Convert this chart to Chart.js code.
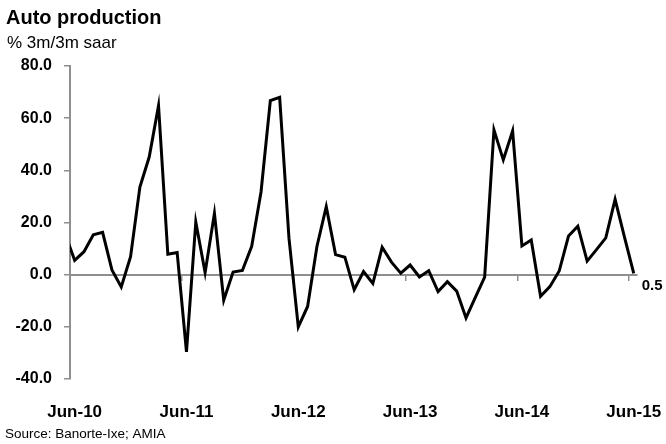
<!DOCTYPE html>
<html>
<head>
<meta charset="utf-8">
<title>Auto production</title>
<script src="https://cdn.jsdelivr.net/npm/chart.js@4.4.1/dist/chart.umd.min.js"></script>
<style>
    html, body { margin:0; padding:0; background:#ffffff; }
    #divGraph { position:relative; width:666px; height:444px; }
</style>
</head>
<body>
<div id="divGraph"><canvas id="canvasGraph"></canvas></div>
<script>
// Mois de la serie (mai-10 a juin-15)
var mois = [
    "May-10","Jun-10","Jul-10","Aug-10","Sep-10","Oct-10","Nov-10","Dec-10",
    "Jan-11","Feb-11","Mar-11","Apr-11","May-11","Jun-11","Jul-11","Aug-11","Sep-11","Oct-11","Nov-11","Dec-11",
    "Jan-12","Feb-12","Mar-12","Apr-12","May-12","Jun-12","Jul-12","Aug-12","Sep-12","Oct-12","Nov-12","Dec-12",
    "Jan-13","Feb-13","Mar-13","Apr-13","May-13","Jun-13","Jul-13","Aug-13","Sep-13","Oct-13","Nov-13","Dec-13",
    "Jan-14","Feb-14","Mar-14","Apr-14","May-14","Jun-14","Jul-14","Aug-14","Sep-14","Oct-14","Nov-14","Dec-14",
    "Jan-15","Feb-15","Mar-15","Apr-15","May-15","Jun-15"
];

// Production automobile, % 3m/3m saar
var valeurs = [
    15.4, 5.5, 8.8, 15.3, 16.2, 1.8, -4.7, 6.9, 33.6, 45.1, 64.8, 7.8,
    8.5, -29.6, 20.2, 0.8, 23.5, -9.8, 1.0, 1.6, 10.9, 31.7, 66.7, 68.0,
    14.0, -20.0, -12.2, 10.8, 26.1, 7.7, 6.7, -5.8, 1.2, -3.4, 10.5, 4.8,
    0.6, 3.7, -0.9, 1.5, -6.5, -2.7, -6.3, -16.6, -8.7, -0.9, 55.5, 44.0,
    55.1, 11.0, 13.3, -8.3, -4.6, 1.4, 14.8, 18.6, 5.2, 9.6, 14.1, 28.9,
    14.5, 0.5
];

// Etiquettes de l'axe X
var positionsEtiquettes = [1, 13, 25, 37, 49, 61];
var etiquettesX = ["Jun-10", "Jun-11", "Jun-12", "Jun-13", "Jun-14", "Jun-15"];
var graduationsZero = [0.5, 12.5, 24.5, 36.5, 48.5, 60.5];

// Graduations de l'axe Y
var graduationsY = [-40, -20, 0, 20, 40, 60, 80];

var police = "'Liberation Sans', Arial, sans-serif";
var gris = "#8f8f8f";

var points = [];
for (var i = 0; i < valeurs.length; i++)
{
    points.push({ x: i, y: valeurs[i] });
}

// Titres, source et etiquette de la derniere valeur
var pluginTextes = {
    id: "textes",
    afterDraw: function(chart)
    {
        var ctx = chart.ctx;
        ctx.save();
        ctx.fillStyle = "#000000";
        ctx.textAlign = "left";
        ctx.textBaseline = "alphabetic";

        ctx.font = "bold 20px " + police;
        ctx.fillText("Auto production", 6, 24);

        ctx.font = "17px " + police;
        ctx.fillText("% 3m/3m saar", 7, 48);

        ctx.font = "13.5px " + police;
        ctx.fillText("Source: Banorte-Ixe; AMIA", 5, 438);

        var dernier = valeurs.length - 1;
        var px = chart.scales.x.getPixelForValue(dernier);
        var py = chart.scales.y.getPixelForValue(valeurs[dernier]);
        ctx.font = "bold 15px " + police;
        ctx.textBaseline = "middle";
        ctx.fillText(valeurs[dernier].toFixed(1), px + 8, py + 12);
        ctx.restore();
    }
};

function DessinerGraph()
{
    var chartdata = {
        datasets: [
            {
                label: "Auto production",
                data: points,
                borderColor: "#000000",
                borderWidth: 3,
                borderJoinStyle: "miter",
                pointRadius: 0,
                tension: 0,
                fill: false,
                xAxisID: "x",
                yAxisID: "y"
            }
        ]
    };

    var graphTarget = document.getElementById("canvasGraph");

    var lineGraph = new Chart(graphTarget, {
        type: "line",
        data: chartdata,
        plugins: [pluginTextes],
        options: {
            responsive: true,
            maintainAspectRatio: false,
            animation: false,
            layout: { padding: { left: 0, top: 66, right: 29, bottom: 25 } },
            plugins: {
                legend: { display: false },
                tooltip: {
                    callbacks: {
                        title: function(items) { return mois[items[0].parsed.x]; }
                    }
                }
            },
            scales: {
                x: {
                    type: "linear",
                    min: 0.5,
                    max: 61.35,
                    position: { y: 0 },
                    afterBuildTicks: function(scale)
                    {
                        scale.ticks = graduationsZero.map(function(v) { return { value: v }; });
                    },
                    ticks: { display: false },
                    grid: { drawOnChartArea: false, drawTicks: true, tickLength: 5, color: gris, lineWidth: 1.5 },
                    border: { display: true, color: gris, width: 2 }
                },
                x2: {
                    type: "linear",
                    min: 0.5,
                    max: 61.35,
                    position: "bottom",
                    afterBuildTicks: function(scale)
                    {
                        scale.ticks = positionsEtiquettes.map(function(v) { return { value: v }; });
                    },
                    afterFit: function(scale)
                    {
                        scale.height = 40;
                        scale.paddingLeft = 0;
                        scale.paddingRight = 0;
                    },
                    ticks: {
                        autoSkip: false,
                        maxRotation: 0,
                        padding: 15,
                        color: "#000000",
                        font: { family: police, size: 17, weight: "bold" },
                        callback: function(value, index) { return etiquettesX[index]; }
                    },
                    grid: { display: false },
                    border: { display: false }
                },
                y: {
                    type: "linear",
                    min: -40,
                    max: 80,
                    afterBuildTicks: function(scale)
                    {
                        scale.ticks = graduationsY.map(function(v) { return { value: v }; });
                    },
                    afterFit: function(scale)
                    {
                        scale.width = 70;
                        scale.paddingTop = 0;
                        scale.paddingBottom = 0;
                    },
                    ticks: {
                        padding: 12,
                        color: "#000000",
                        font: { family: police, size: 16, weight: "bold" },
                        callback: function(value) { return value.toFixed(1); }
                    },
                    grid: { drawOnChartArea: false, drawTicks: true, tickLength: 6, color: gris, lineWidth: 1.5 },
                    border: { display: true, color: gris, width: 2 }
                }
            }
        }
    });
}

DessinerGraph();
</script>
</body>
</html>
